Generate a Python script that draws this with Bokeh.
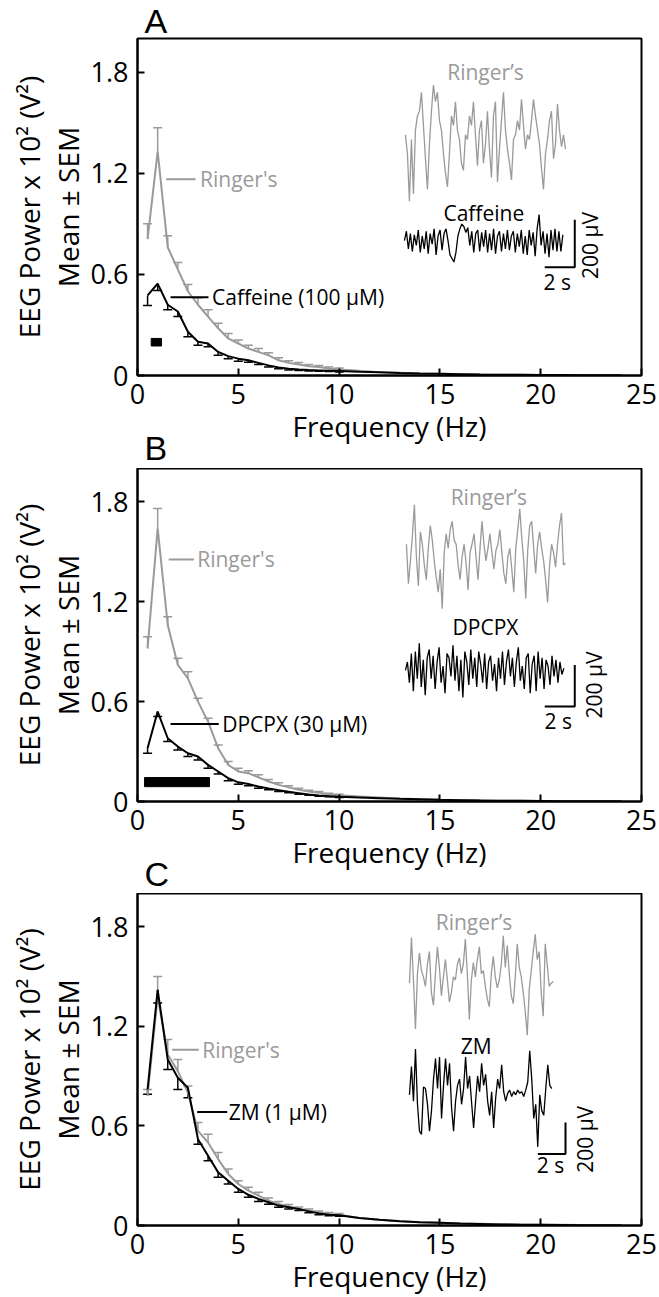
import numpy as np
from bokeh.plotting import figure
from bokeh.models import Range1d, Label, Whisker, TeeHead, ColumnDataSource, FixedTicker, LinearAxis, Title
from bokeh.layouts import column
from bokeh.embed import file_html
from bokeh.resources import INLINE

# ---------------- data ----------------
freq = [0.5, 1.0, 1.5, 2.0, 2.5, 3.0, 3.5, 4.0, 4.5, 5.0, 5.5, 6.0, 6.5, 7.0, 7.5, 8.0, 8.5, 9.0, 9.5, 10.0,
        11, 12, 13, 14, 15, 16, 17, 18, 19, 20, 21, 22, 23, 24]

# Panel A: Ringer's vs Caffeine (100 uM)
a_ringer_mean = [0.81, 1.33, 0.76, 0.63, 0.50, 0.42, 0.35, 0.28, 0.22, 0.19, 0.16, 0.14, 0.12, 0.09, 0.075,
                 0.065, 0.055, 0.05, 0.042, 0.036, 0.028, 0.02, 0.016, 0.012, 0.01, 0.008, 0.006, 0.005, 0.004,
                 0.003, 0.003, 0.002, 0.002, 0.001]
a_ringer_sem = [0.09, 0.14, 0.07, 0.04, 0.04, 0.04, 0.04, 0.03, 0.03, 0.02, 0.02, 0.02, 0.015, 0.015, 0.012,
                0.012, 0.01, 0.01, 0.008, 0.008]
a_drug_mean = [0.475, 0.545, 0.42, 0.38, 0.26, 0.20, 0.19, 0.14, 0.115, 0.10, 0.09, 0.075, 0.06, 0.048, 0.04,
               0.035, 0.032, 0.03, 0.028, 0.026, 0.022, 0.019, 0.015, 0.012, 0.01, 0.008, 0.006, 0.005, 0.004,
               0.003, 0.003, 0.002, 0.002, 0.001]
a_drug_sem = [0.06, 0.04, 0.03, 0.03, 0.03, 0.02, 0.02, 0.02, 0.015, 0.015, 0.012, 0.01, 0.01, 0.008, 0.008,
              0.006, 0.006, 0.005, 0.005, 0.005]
a_sig = [0.68, 1.19]

# Panel B: Ringer's vs DPCPX (30 uM)
b_ringer_mean = [0.92, 1.64, 1.06, 0.82, 0.74, 0.60, 0.48, 0.32, 0.22, 0.18, 0.17, 0.145, 0.12, 0.10, 0.085,
                 0.07, 0.06, 0.052, 0.044, 0.038, 0.03, 0.024, 0.018, 0.014, 0.011, 0.009, 0.007, 0.005, 0.004,
                 0.003, 0.003, 0.002, 0.002, 0.001]
b_ringer_sem = [0.07, 0.12, 0.05, 0.04, 0.04, 0.02, 0.02, 0.02, 0.02, 0.02, 0.015, 0.015, 0.012, 0.012, 0.01,
                0.01, 0.008, 0.008, 0.006, 0.006]
b_drug_mean = [0.32, 0.54, 0.38, 0.33, 0.29, 0.27, 0.22, 0.18, 0.14, 0.115, 0.105, 0.09, 0.078, 0.068, 0.058,
               0.05, 0.042, 0.036, 0.032, 0.028, 0.024, 0.02, 0.016, 0.013, 0.01, 0.008, 0.006, 0.005, 0.004,
               0.003, 0.002, 0.002, 0.001, 0.001]
b_drug_sem = [0.03, 0.03, 0.02, 0.02, 0.02, 0.02, 0.02, 0.015, 0.015, 0.012, 0.01, 0.01, 0.008, 0.008, 0.006,
              0.006, 0.005, 0.005, 0.004, 0.004]
b_sig = [0.35, 3.57]

# Panel C: Ringer's vs ZM (1 uM)
c_ringer_mean = [0.78, 1.38, 1.03, 0.93, 0.80, 0.57, 0.50, 0.40, 0.31, 0.25, 0.21, 0.18, 0.15, 0.13, 0.115,
                 0.10, 0.09, 0.078, 0.07, 0.065, 0.045, 0.035, 0.027, 0.02, 0.016, 0.012, 0.01, 0.008, 0.006,
                 0.005, 0.004, 0.003, 0.002, 0.002]
c_ringer_sem = [0.04, 0.12, 0.09, 0.07, 0.04, 0.05, 0.05, 0.04, 0.03, 0.02, 0.02, 0.02, 0.015, 0.015, 0.012,
                0.012, 0.01, 0.01, 0.008, 0.008]
c_drug_mean = [0.82, 1.42, 1.00, 0.89, 0.83, 0.52, 0.42, 0.32, 0.27, 0.22, 0.185, 0.16, 0.14, 0.12, 0.11,
               0.10, 0.085, 0.073, 0.065, 0.062, 0.045, 0.034, 0.026, 0.02, 0.016, 0.012, 0.009, 0.006, 0.005,
               0.004, 0.003, 0.002, 0.002, 0.001]
c_drug_sem = [0.03, 0.08, 0.06, 0.07, 0.06, 0.03, 0.03, 0.03, 0.02, 0.02, 0.015, 0.015, 0.012, 0.01, 0.01,
              0.01, 0.008, 0.008, 0.006, 0.006]

# EEG example traces (microvolts, evenly sampled)
a_trace_ringer = [20, -60, -260, 0, -230, 40, 100, 120, 200, 60, -80, -210, -20, 120, 230, 160, 200, 80, 40, -60,
                  -140, -200, -60, 100, 60, 160, 40, 0, -100, -130, 20, 0, 100, 60, 160, 20, -110, 40, 80, -100,
                  -20, 120, -40, -160, 100, 160, -180, -40, 80, 200, 40, -40, -100, -170, 0, 20, 80, 40, 170, 60,
                  -40, 20, 0, 80, 170, 100, 40, -20, -120, -210, -60, 0, 80, 120, -80, -20, 150, 40, -30, 20, -40]
a_trace_drug = [0, 40, -35, 30, -45, 25, -20, 45, -50, 20, -35, 40, -55, 30, -15, 50, -60, 20, 45, -40, 30, 50, 0,
                -60, -75, -90, -50, 20, 50, 70, 60, 35, 55, -20, 40, -50, 30, 45, -45, 35, -25, 45, -50, 30, -40,
                50, -55, 20, 40, -45, 30, -35, 45, -40, 20, 40, -50, 30, -25, 45, -55, 20, -60, 45, -20, 35, -65,
                50, 110, -20, 40, -55, 30, -70, 45, -40, 50, -45, 40, -45, 25]
b_trace_ringer = [60, -130, -20, 100, 250, 0, -140, 120, 60, -40, -110, 40, 150, 80, -20, -100, -170, -60, -250,
                  20, 110, 40, 130, 170, 80, 60, -40, -110, 0, 60, -30, -160, 20, 60, 110, 0, -110, 40, 170, 60,
                  -20, 40, 110, 20, -60, 30, 60, 130, 20, -80, -130, 0, 40, -60, -170, 40, 130, 230, 90, -20,
                  -200, 30, 150, 170, 40, -80, 60, 120, 40, -20, -110, -220, -40, 60, 20, -50, 60, 150, 210, -40, -30]
b_trace_drug = [0, 40, -60, 80, -100, 90, -40, 130, -80, 50, -120, 60, 100, -40, 70, -90, 40, 110, -60, 20, -110,
                80, 60, -30, 120, -50, 70, -100, 50, -130, 90, 40, -70, 100, -40, 60, -80, 90, 30, -60, 80, -90,
                40, 70, -50, 30, -100, 60, -40, 90, -70, 40, 100, -30, 60, -80, 40, 110, -50, 20, -90, 60, 80,
                -110, 30, 70, -100, 90, -40, 60, -90, 50, 20, -70, 70, -30, 50, -60, 40, -20, 10]
c_trace_ringer = [0, 290, 20, -290, 60, 190, 80, 40, -20, 120, 200, -60, -140, 60, 230, 100, -80, 40, 150, 20,
                  -120, -60, 40, 20, 120, 160, 60, 120, 280, 60, -230, 20, 130, 40, 150, 230, 60, 80, -20, -100,
                  -150, 60, 170, 40, -30, 20, 120, 300, 100, 240, 60, -80, -130, 40, 250, 100, 40, -60, -180,
                  -330, -40, 80, 200, 310, 150, 200, -60, -210, 250, 120, -20, 0, 10]
c_trace_drug = [0, 180, -40, 290, -60, -230, -250, 50, 40, -60, -230, -100, 100, 230, 40, 240, -150, 60, 230, 60,
                200, -80, -230, -40, 60, 100, -60, 40, 240, 40, 120, -50, -210, -40, 120, 20, 200, 60, 130, -40,
                -130, 20, -210, -20, 100, 40, 190, 20, -40, 10, 30, -10, 20, 0, 30, 10, 20, -10, 30, 80, 280,
                100, -150, -60, -330, 0, -100, -130, 40, 190, 60, 40]

x_ticks = [0, 5, 10, 15, 20, 25]
y_ticks = [0, 0.6, 1.2, 1.8]

# ---------------- style / layout ----------------
GRAY = "#9a9a9a"
BLACK = "#000000"
FONT = "Open Sans"
LETTER_FONT = "Liberation Sans"

panels = [
    dict(letter="A", next_letter="B", drug="Caffeine (100 μM)", drug_short="Caffeine",
         rm=a_ringer_mean, rs=a_ringer_sem, dm=a_drug_mean, ds=a_drug_sem, sig=a_sig,
         tr=a_trace_ringer, td=a_trace_drug,
         h=468, top=38, bottom=93,
         r_lead=(1.42, 2.88, 1.165, 3.1), d_lead=(1.64, 3.52, 0.465, 3.7),
         tr_x=(13.29, 21.23), td_x=(13.24, 21.10), tr_c=1.40, td_c=0.80, uv=0.001406,
         bar=(20.2, 21.69, 0.643), lab_r=(17.26, 1.80), lab_d=(17.18, 0.967),
         lab_s=(20.82, 0.554), lab_uv=(22.47, 0.772), sig_y=(0.175, 0.22)),
    dict(letter=None, next_letter="C", drug="DPCPX (30 μM)", drug_short="DPCPX",
         rm=b_ringer_mean, rs=b_ringer_sem, dm=b_drug_mean, ds=b_drug_sem, sig=b_sig,
         tr=b_trace_ringer, td=b_trace_drug,
         h=425, top=0, bottom=92,
         r_lead=(1.55, 2.80, 1.454, 2.96), d_lead=(1.64, 4.03, 0.465, 4.2),
         tr_x=(13.34, 21.23), td_x=(13.29, 21.15), tr_c=1.47, td_c=0.788, uv=0.00125,
         bar=(20.2, 21.69, 0.570), lab_r=(17.43, 1.83), lab_d=(17.26, 1.046),
         lab_s=(20.87, 0.485), lab_uv=(22.63, 0.70), sig_y=(0.089, 0.144)),
    dict(letter=None, next_letter=None, drug="ZM (1 μM)", drug_short="ZM",
         rm=c_ringer_mean, rs=c_ringer_sem, dm=c_drug_mean, ds=c_drug_sem, sig=None,
         tr=c_trace_ringer, td=c_trace_drug,
         h=404, top=0, bottom=71,
         r_lead=(1.72, 3.04, 1.059, 3.21), d_lead=(2.96, 4.45, 0.683, 4.53),
         tr_x=(13.49, 20.62), td_x=(13.49, 20.55), tr_c=1.46, td_c=0.787, uv=0.00095,
         bar=(19.86, 21.23, 0.430), lab_r=(16.69, 1.826), lab_d=(16.8, 1.084),
         lab_s=(20.49, 0.367), lab_uv=(22.22, 0.519), sig_y=None),
]


def lab(p, x, y, text, size="21px", color=BLACK, align="left", baseline="middle", angle=0.0):
    p.add_layout(Label(x=x, y=y, text=text, text_font=FONT, text_font_size=size, text_color=color,
                       text_align=align, text_baseline=baseline, angle=angle))


def letter_title(text, standoff):
    return Title(text=text, text_font=LETTER_FONT, text_font_size="34px", text_font_style="normal",
                 align="left", offset=7, standoff=standoff, vertical_align="middle", text_color=BLACK)


def build(cfg):
    p = figure(width=659, height=cfg["h"], x_range=Range1d(0, 25), y_range=Range1d(0, 2.0),
               output_backend="svg", toolbar_location=None,
               min_border_left=137, min_border_right=18, min_border_top=cfg["top"],
               min_border_bottom=cfg["bottom"])
    p.grid.visible = False
    p.outline_line_color = BLACK
    p.outline_line_width = 2
    if cfg["letter"]:
        p.title = letter_title(cfg["letter"], -4)
    for ax in (p.xaxis[0], p.yaxis[0]):
        ax.axis_line_width = 2
        ax.axis_line_color = BLACK
        ax.major_tick_in = 7
        ax.major_tick_out = 0
        ax.major_tick_line_width = 2
        ax.minor_tick_line_color = None
        ax.major_label_text_font = FONT
        ax.major_label_text_font_size = "27px"
        ax.major_label_text_color = BLACK
        ax.axis_label_text_font = FONT
        ax.axis_label_text_font_size = "28px"
        ax.axis_label_text_font_style = "normal"
        ax.axis_label_text_color = BLACK
    p.xaxis.ticker = FixedTicker(ticks=x_ticks)
    p.yaxis.ticker = FixedTicker(ticks=y_ticks)
    p.xaxis.major_label_standoff = 8
    p.yaxis.major_label_standoff = 9
    p.xaxis.axis_label = "Frequency (Hz)"
    p.xaxis.axis_label_standoff = 0
    p.yaxis.axis_label = "Mean ± SEM"
    p.yaxis.axis_label_standoff = 1

    outer = LinearAxis(axis_label="EEG Power x 10² (V²)", ticker=FixedTicker(ticks=[]),
                       axis_line_color=None, major_tick_line_color=None, minor_tick_line_color=None,
                       major_tick_in=0, major_tick_out=0, major_label_standoff=0,
                       major_label_text_font_size="0px", axis_label_standoff=-2,
                       axis_label_text_font=FONT, axis_label_text_font_size="28px",
                       axis_label_text_font_style="normal", axis_label_text_color=BLACK)
    p.add_layout(outer, "left")

    if cfg["next_letter"]:
        p.add_layout(letter_title(cfg["next_letter"], -96), "below")

    f = freq
    n = len(cfg["rs"])
    # Ringer's (gray) with upward SEM
    p.line(f, cfg["rm"], line_color=GRAY, line_width=2)
    src_r = ColumnDataSource(dict(x=f[:n], lo=cfg["rm"][:n],
                                  hi=[m + s for m, s in zip(cfg["rm"][:n], cfg["rs"])]))
    p.add_layout(Whisker(source=src_r, base="x", lower="lo", upper="hi", line_color=GRAY, line_width=1.5,
                         upper_head=TeeHead(size=9, line_color=GRAY, line_width=1.5), lower_head=None))
    # Drug (black) with downward SEM
    p.line(f, cfg["dm"], line_color=BLACK, line_width=2)
    src_d = ColumnDataSource(dict(x=f[:n], hi=cfg["dm"][:n],
                                  lo=[m - s for m, s in zip(cfg["dm"][:n], cfg["ds"])]))
    p.add_layout(Whisker(source=src_d, base="x", lower="lo", upper="hi", line_color=BLACK, line_width=1.5,
                         lower_head=TeeHead(size=9, line_color=BLACK, line_width=1.5), upper_head=None))

    # significance bar
    if cfg["sig"] is not None:
        p.quad(left=[cfg["sig"][0]], right=[cfg["sig"][1]], bottom=[cfg["sig_y"][0]], top=[cfg["sig_y"][1]],
               fill_color=BLACK, line_color=BLACK)

    # leader lines + labels
    x0, x1, yy, xt = cfg["r_lead"]
    p.line([x0, x1], [yy, yy], line_color=GRAY, line_width=2)
    lab(p, xt, yy, "Ringer's", color=GRAY)
    x0, x1, yy, xt = cfg["d_lead"]
    p.line([x0, x1], [yy, yy], line_color=BLACK, line_width=2)
    lab(p, xt, yy, cfg["drug"])

    # inset traces
    tr = np.array(cfg["tr"], dtype=float)
    xs = np.linspace(cfg["tr_x"][0], cfg["tr_x"][1], len(tr))
    p.line(xs, cfg["tr_c"] + tr * cfg["uv"], line_color=GRAY, line_width=1.3)
    td = np.array(cfg["td"], dtype=float)
    xs = np.linspace(cfg["td_x"][0], cfg["td_x"][1], len(td))
    p.line(xs, cfg["td_c"] + td * cfg["uv"], line_color=BLACK, line_width=1.3)
    lab(p, cfg["lab_r"][0], cfg["lab_r"][1], "Ringer’s", color=GRAY, align="center")
    lab(p, cfg["lab_d"][0], cfg["lab_d"][1], cfg["drug_short"], align="center")

    # scale bar (2 s, 200 uV)
    bx0, bx1, by = cfg["bar"]
    bh = 200 * cfg["uv"]
    p.line([bx0, bx1, bx1], [by, by, by + bh], line_color=BLACK, line_width=2)
    lab(p, cfg["lab_s"][0], cfg["lab_s"][1], "2 s", align="center")
    lab(p, cfg["lab_uv"][0], cfg["lab_uv"][1], "200 μV", align="center", angle=np.pi / 2)
    return p


figs = [build(c) for c in panels]
layout = column(*figs, spacing=0)
open("out.html", "w").write(file_html(layout, INLINE))
